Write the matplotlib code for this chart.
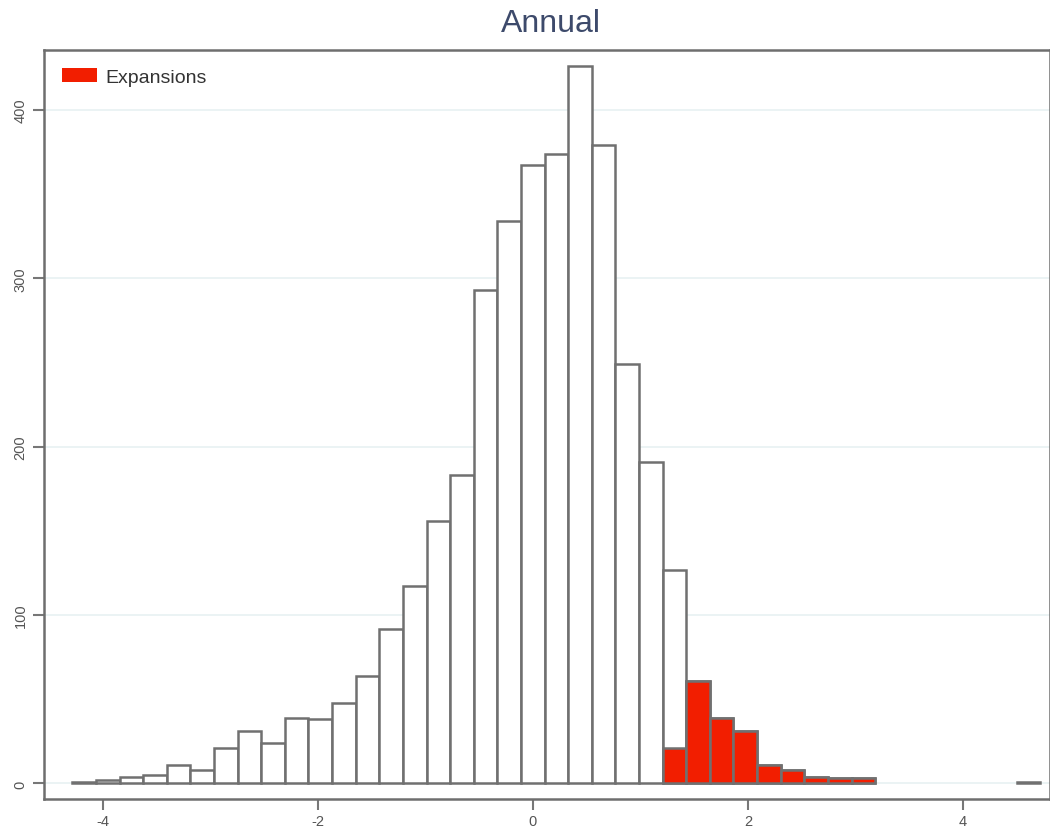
import numpy as np
import matplotlib
matplotlib.use("Agg")
import matplotlib.pyplot as plt
from matplotlib.patches import Patch

plt.rcParams['font.family'] = ['Liberation Sans', 'DejaVu Sans']
plt.rcParams['axes.unicode_minus'] = False

# =============================================================================
# Histogram data
# =============================================================================
bin_start = -4.283
bin_width = 0.2196
all_counts = [1, 2, 4, 5, 11, 8, 21, 31, 24, 39, 38, 48, 64, 92, 117, 156, 183,
              293, 334, 367, 374, 426, 379, 249, 191, 127, 61, 39, 31, 11, 8,
              4, 3, 3, 0, 0, 0, 0, 0, 0, 1]
exp_first_bin = 25
exp_counts = [21, 61, 39, 31, 11, 8, 4, 3, 3]

edges = bin_start + bin_width * np.arange(len(all_counts))
all_counts = np.array(all_counts)
keep = all_counts > 0

exp_edges = edges[exp_first_bin:exp_first_bin + len(exp_counts)]

fig = plt.figure(figsize=(10.5, 8.29), dpi=100)
ax = fig.add_axes([0.042, 0.035, 0.958, 0.903])

ax.bar(edges[keep], all_counts[keep], width=bin_width, align="edge",
       color="white", edgecolor="#707070", linewidth=1.8, zorder=2)
ax.bar(exp_edges, exp_counts, width=bin_width, align="edge",
       color="#f21e00", edgecolor="#707070", linewidth=1.8, zorder=3)

ax.set_xlim(-4.546, 4.81)
ax.set_ylim(-9.2, 435.3)
ax.set_xticks([-4, -2, 0, 2, 4])
ax.set_yticks([0, 100, 200, 300, 400])
ax.grid(axis="y", color="#e8f1f2", linewidth=1.2, zorder=0)
ax.set_axisbelow(True)

ax.tick_params(axis="both", direction="out", length=8, width=1.5,
               color="#777777", labelcolor="#555555", labelsize=10.5)
ax.tick_params(axis="y", pad=4)
ax.tick_params(axis="x", pad=3)
for lab in ax.get_yticklabels():
    lab.set_rotation(90)
    lab.set_va("center")

for s in ax.spines.values():
    s.set_color("#6e6e6e")
    s.set_linewidth(1.8)

fig.text(551 / 1050, 1 - 24 / 829, "Annual", fontsize=23, color="#3d4a6b",
         ha="center", va="center")

handles = [Patch(facecolor="#f21e00", edgecolor="none", label="Expansions")]
ax.legend(handles=handles, loc="upper left", frameon=False, fontsize=14,
          handlelength=1.8, handleheight=0.75, handletextpad=0.45,
          borderaxespad=0.5, labelcolor="#333333")

fig.savefig("out.png", dpi=100)
